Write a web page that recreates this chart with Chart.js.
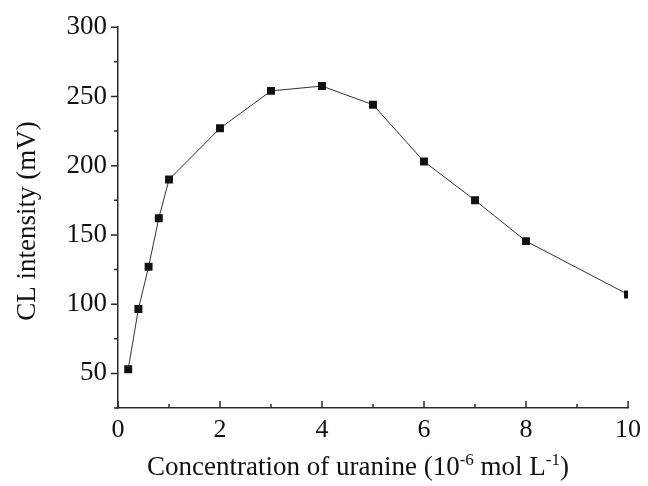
<!DOCTYPE html>
<html>
<head>
<meta charset="utf-8">
<script src="https://cdn.jsdelivr.net/npm/chart.js@4/dist/chart.umd.min.js"></script>
<style>
  body { margin: 0; background: #fff; }
</style>
</head>
<body>
<canvas id="grafico" width="648" height="486"></canvas>
<script>
// datos
const concentraciones = [0.2, 0.4, 0.6, 0.8, 1, 2, 3, 4, 5, 6, 7, 8, 10];
const intensidades = [53, 96.5, 127, 162, 190, 227, 254, 257.5, 244, 203, 175, 145.5, 107];
const yTicks = [50, 100, 150, 200, 250, 300];
const yMinorTicks = [25, 75, 125, 175, 225, 275];
const xTicks = [0, 2, 4, 6, 8, 10];
const xMinorTicks = [1, 3, 5, 7, 9];
const yTitulo = 'CL intensity (mV)';
const xTitulo = ['Concentration of uranine (10', '-6', ' mol L', '-1', ')'];

const fuente = '"Liberation Serif", "Times New Roman", serif';
const colorEje = '#2a2a2a';

// marcas de los ejes (y hacia afuera, x hacia adentro) y titulos
const marcasYTitulos = {
    id: 'marcasYTitulos',
    afterDraw(chart) {
        const ctx = chart.ctx;
        const area = chart.chartArea;
        const sx = chart.scales.x;
        const sy = chart.scales.y;
        ctx.save();
        ctx.strokeStyle = colorEje;
        ctx.lineWidth = 1.5;
        ctx.beginPath();
        yTicks.forEach(v => {
            const y = sy.getPixelForValue(v);
            ctx.moveTo(area.left, y);
            ctx.lineTo(area.left - 7, y);
        });
        yMinorTicks.forEach(v => {
            const y = sy.getPixelForValue(v);
            ctx.moveTo(area.left, y);
            ctx.lineTo(area.left - 4, y);
        });
        xTicks.forEach(v => {
            const x = sx.getPixelForValue(v);
            ctx.moveTo(x, area.bottom);
            ctx.lineTo(x, area.bottom - 7);
        });
        xMinorTicks.forEach(v => {
            const x = sx.getPixelForValue(v);
            ctx.moveTo(x, area.bottom);
            ctx.lineTo(x, area.bottom - 4);
        });
        ctx.stroke();

        ctx.fillStyle = '#111';
        ctx.textBaseline = 'alphabetic';

        // titulo eje y (rotado)
        ctx.save();
        ctx.font = '27px ' + fuente;
        ctx.translate(35, 221);
        ctx.rotate(-Math.PI / 2);
        ctx.textAlign = 'center';
        ctx.fillText(yTitulo, 0, 0);
        ctx.restore();

        // titulo eje x con superindices
        const grande = '27px ' + fuente;
        const chico = '17px ' + fuente;
        let total = 0;
        xTitulo.forEach((t, i) => {
            ctx.font = i % 2 === 1 ? chico : grande;
            total += ctx.measureText(t).width;
        });
        let x = 358 - total / 2;
        const base = 475;
        ctx.textAlign = 'left';
        xTitulo.forEach((t, i) => {
            const sup = i % 2 === 1;
            ctx.font = sup ? chico : grande;
            ctx.fillText(t, x, sup ? base - 10 : base);
            x += ctx.measureText(t).width;
        });
        ctx.restore();
    }
};

const ctx = document.getElementById('grafico').getContext('2d');
new Chart(ctx, {
    type: 'line',
    data: {
        datasets: [{
            data: concentraciones.map((c, i) => ({ x: c, y: intensidades[i] })),
            borderColor: '#333',
            borderWidth: 1,
            pointStyle: 'rect',
            pointRadius: 5.6,
            pointBorderWidth: 0,
            pointBackgroundColor: '#111',
            tension: 0,
            fill: false
        }]
    },
    options: {
        responsive: false,
        animation: false,
        layout: { padding: { left: 0, right: 17, top: 25, bottom: 0 } },
        plugins: {
            legend: { display: false },
            tooltip: { enabled: false }
        },
        scales: {
            x: {
                type: 'linear',
                min: 0,
                max: 10,
                afterFit: (scale) => { scale.height = 78; },
                afterBuildTicks: (scale) => { scale.ticks = xTicks.map(v => ({ value: v })); },
                grid: { display: false, drawTicks: false },
                border: { display: true, color: colorEje, width: 1.5 },
                ticks: {
                    color: '#111',
                    padding: 7,
                    maxRotation: 0,
                    font: { family: fuente, size: 26 }
                }
            },
            y: {
                min: 25,
                max: 300,
                afterFit: (scale) => { scale.width = 118; },
                afterBuildTicks: (scale) => { scale.ticks = yTicks.map(v => ({ value: v })); },
                grid: { display: false, drawTicks: false },
                border: { display: true, color: colorEje, width: 1.5 },
                ticks: {
                    color: '#111',
                    padding: 11,
                    font: { family: fuente, size: 27 }
                }
            }
        }
    },
    plugins: [marcasYTitulos]
});
</script>
</body>
</html>
